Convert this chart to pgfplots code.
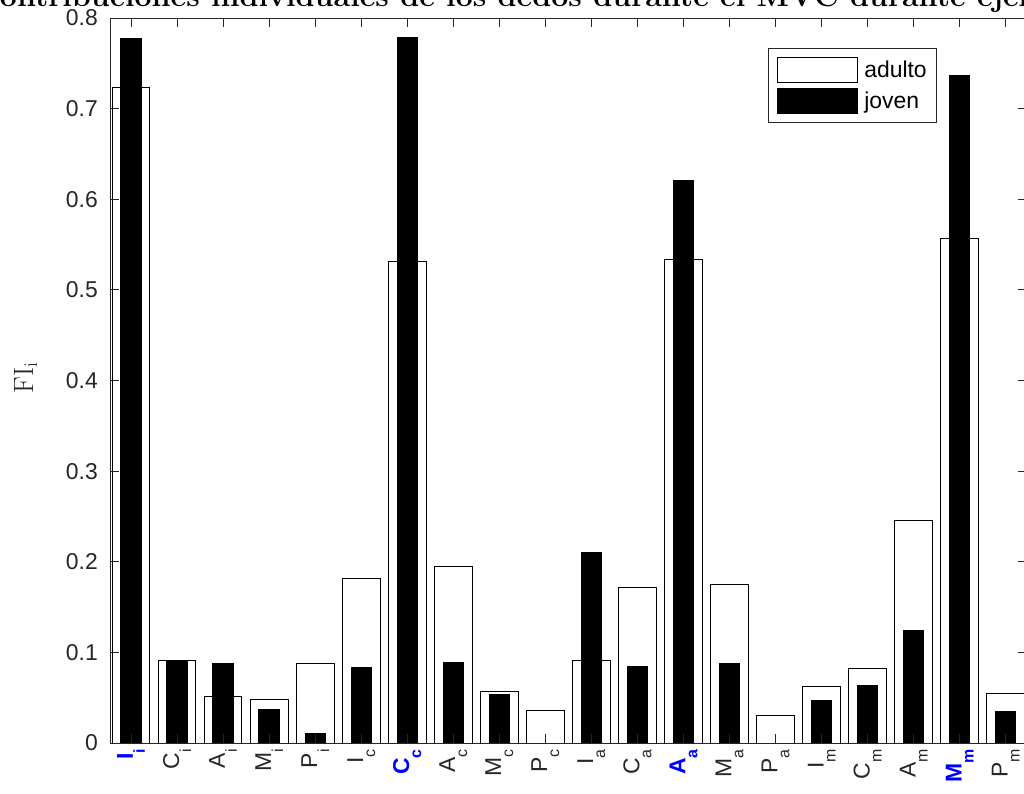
\documentclass[border=0pt]{standalone}
\usepackage{pgfplots}
\pgfplotsset{compat=1.18}
\usepackage{fontspec}
\setsansfont{Liberation Sans}
\definecolor{axgray}{rgb}{0.15,0.15,0.15}
\newcommand{\tl}[2]{#1\raisebox{-12bp}{\fontsize{16}{17}\selectfont #2}}
\newcommand{\hl}[2]{\textcolor{blue}{\bfseries #1\raisebox{-12bp}{\fontsize{16}{17}\selectfont #2}}}
\begin{document}
\begin{tikzpicture}
\useasboundingbox (0bp,0bp) rectangle (1024bp,794bp);
\clip (0bp,0bp) rectangle (1024bp,794bp);
\node[anchor=base west, font=\rmfamily\bfseries\fontsize{30.5}{32}\selectfont, text=black, inner sep=0] at (-25bp,787bp) {Contribuciones individuales de los dedos durante el MVC durante ejercicio de fuerza};
\node[rotate=90, anchor=base, font=\rmfamily\fontsize{28}{30}\selectfont, inner sep=0, text=axgray] at (33bp,416bp) {$\mathrm{FI}_{\mathrm{i}}$};
\begin{axis}[at={(110bp,51bp)}, anchor=south west, scale only axis, width=917bp, height=725bp,
 xmin=0.544, xmax=20.46, ymin=0, ymax=0.8,
 xtick={1,...,20},
 xticklabels={{\hl{I}{i}},{\tl{C}{i}},{\tl{A}{i}},{\tl{M}{i}},{\tl{P}{i}},
   {\tl{I}{c}},{\hl{C}{c}},{\tl{A}{c}},{\tl{M}{c}},{\tl{P}{c}},
   {\tl{I}{a}},{\tl{C}{a}},{\hl{A}{a}},{\tl{M}{a}},{\tl{P}{a}},
   {\tl{I}{m}},{\tl{C}{m}},{\tl{A}{m}},{\hl{M}{m}},{\tl{P}{m}}},
 ytick={0,0.1,0.2,0.3,0.4,0.5,0.6,0.7,0.8},
 yticklabels={0,0.1,0.2,0.3,0.4,0.5,0.6,0.7,0.8},
 tick align=inside, major tick length=9bp,
 axis on top,
 axis line style={axgray, line width=0.8bp},
 every tick/.style={axgray, line width=0.8bp},
 ticklabel style={font=\sffamily\fontsize{23}{25}\selectfont, text=axgray},
 xticklabel style={rotate=90, anchor=east, inner sep=6bp},
 yticklabel style={inner sep=4bp, xshift=-8bp},
 legend style={at={(0.902,0.959)}, anchor=north east, draw=axgray, line width=0.8bp,
   font=\sffamily\fontsize{23}{25}\selectfont, text=black, inner xsep=8bp, inner ysep=9bp,
   row sep=5bp, column sep=5bp},
 legend cell align=left,
 legend image code/.code={\draw[#1, line width=0.8bp] (0bp,-12.5bp) rectangle (80bp,12.5bp);},
]
\addplot[ybar, bar width=0.82, bar shift=0pt, fill=white, draw=black, line width=1bp] coordinates {
(1,0.723) (2,0.091) (3,0.051) (4,0.048) (5,0.088) (6,0.182) (7,0.531) (8,0.195) (9,0.057) (10,0.036)
(11,0.091) (12,0.172) (13,0.533) (14,0.175) (15,0.030) (16,0.062) (17,0.082) (18,0.246) (19,0.557) (20,0.055)};
\addlegendentry{adulto}
\addplot[ybar, bar width=0.44, bar shift=0pt, fill=black, draw=black, line width=1bp] coordinates {
(1,0.777) (2,0.091) (3,0.088) (4,0.0375) (5,0.011) (6,0.083) (7,0.779) (8,0.089) (9,0.053) (10,0)
(11,0.210) (12,0.084) (13,0.621) (14,0.088) (15,0) (16,0.047) (17,0.063) (18,0.124) (19,0.736) (20,0.035)};
\addlegendentry{joven}
\end{axis}
\end{tikzpicture}
\end{document}
